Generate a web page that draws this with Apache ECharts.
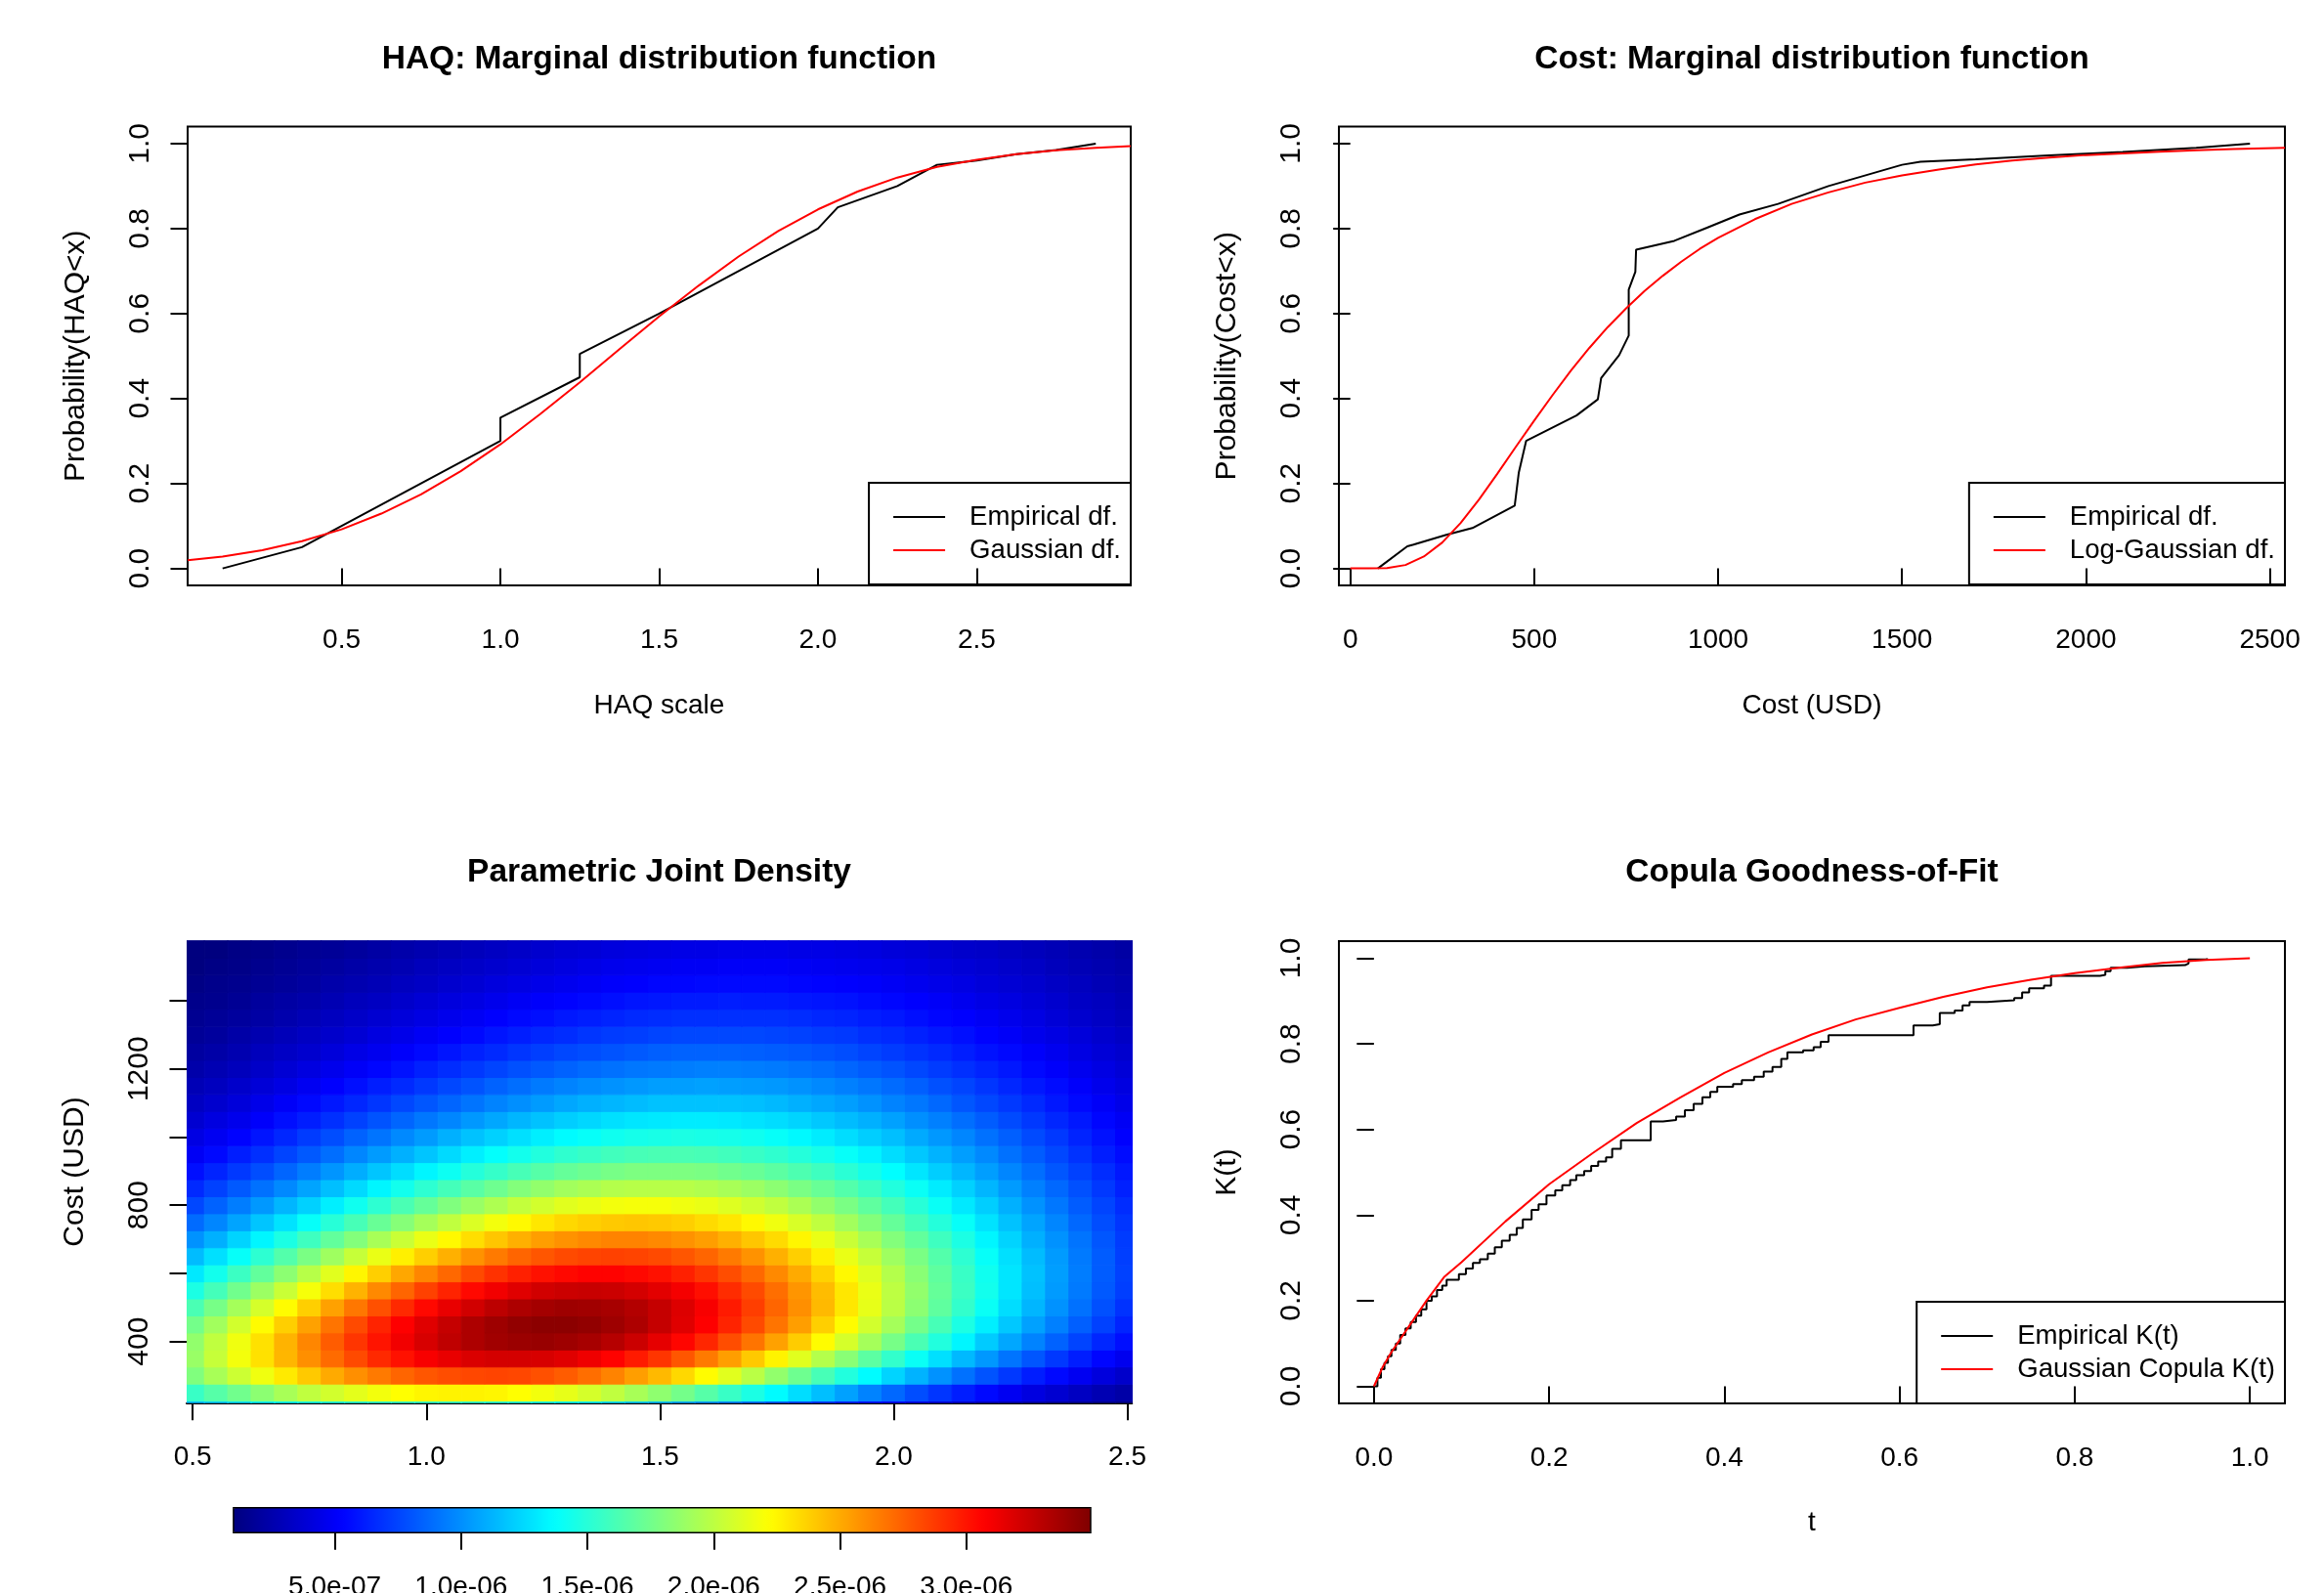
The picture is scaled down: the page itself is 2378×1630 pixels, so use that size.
<!DOCTYPE html>
<html>
<head>
<meta charset="utf-8">
<script src="https://cdn.jsdelivr.net/npm/echarts@6/dist/echarts.min.js"></script>
<style>
html, body { margin: 0; padding: 0; background: #fff; }
#chart { width: 2378px; height: 1630px; }
</style>
</head>
<body>
<div id="chart"></div>
<script>
// ---- data ----
// HAQ marginal
const haqEmpX = [0.125, 0.375, 0.5, 0.75, 1.0, 1.0, 1.25, 1.25, 1.5, 1.75, 2.0, 2.0625, 2.25, 2.375, 2.4375, 2.5, 2.625, 2.75, 2.875];
const haqEmpY = [0.0, 0.05, 0.1, 0.2, 0.3, 0.355, 0.45, 0.505, 0.6, 0.7, 0.8, 0.85, 0.9, 0.95, 0.955, 0.96, 0.975, 0.985, 1.0];
const haqFitX = [0.015, 0.125, 0.25, 0.375, 0.5, 0.625, 0.75, 0.875, 1.0, 1.125, 1.25, 1.375, 1.5, 1.625, 1.75, 1.875, 2.0, 2.125, 2.25, 2.375, 2.5, 2.625, 2.75, 2.875, 2.985];
const haqFitY = [0.019, 0.028, 0.043, 0.064, 0.092, 0.129, 0.174, 0.229, 0.292, 0.363, 0.438, 0.516, 0.593, 0.666, 0.734, 0.794, 0.845, 0.887, 0.920, 0.945, 0.962, 0.975, 0.984, 0.990, 0.994];

// Cost marginal
const costEmpX = [75, 155, 172, 261, 332, 447, 458, 478, 615, 673, 682, 731, 757, 757, 775, 777, 881, 970, 1058, 1163, 1300, 1500, 1550, 1700, 1900, 2100, 2300, 2446];
const costEmpY = [0, 0.052, 0.056, 0.079, 0.095, 0.148, 0.225, 0.30, 0.36, 0.398, 0.448, 0.502, 0.548, 0.656, 0.698, 0.75, 0.771, 0.802, 0.833, 0.858, 0.9, 0.95, 0.957, 0.963, 0.972, 0.98, 0.99, 1.0];
const costFitX = [0, 50, 100, 150, 200, 250, 300, 350, 400, 450, 500, 550, 600, 650, 700, 750, 800, 850, 900, 950, 1000, 1100, 1200, 1300, 1400, 1500, 1600, 1700, 1800, 1900, 2000, 2100, 2200, 2300, 2400, 2541];
const costFitY = [0, 0, 0.001, 0.008, 0.028, 0.061, 0.107, 0.162, 0.223, 0.286, 0.348, 0.408, 0.466, 0.519, 0.568, 0.612, 0.653, 0.689, 0.722, 0.752, 0.778, 0.822, 0.858, 0.885, 0.908, 0.925, 0.939, 0.951, 0.960, 0.967, 0.973, 0.977, 0.981, 0.984, 0.987, 0.990];

// Joint density (units of 1e-7), rows follow heatY, columns follow heatX
const heatX = [0.5, 0.55, 0.6, 0.65, 0.7, 0.75, 0.8, 0.85, 0.9, 0.95, 1.0, 1.05, 1.1, 1.15, 1.2, 1.25, 1.3, 1.35, 1.4, 1.45, 1.5, 1.55, 1.6, 1.65, 1.7, 1.75, 1.8, 1.85, 1.9, 1.95, 2.0, 2.05, 2.1, 2.15, 2.2, 2.25, 2.3, 2.35, 2.4, 2.45, 2.5];
const heatY = [200, 250, 300, 350, 400, 450, 500, 550, 600, 650, 700, 750, 800, 850, 900, 950, 1000, 1050, 1100, 1150, 1200, 1250, 1300, 1350, 1400, 1450, 1500, 1550, 1600];
const density = [
  [11.5, 12.1, 12.7, 13.3, 13.7, 14.2, 14.5, 14.8, 15.0, 15.2, 15.2, 15.2, 15.0, 14.8, 14.6, 14.2, 13.8, 13.3, 12.7, 12.1, 11.5, 10.8, 10.2, 9.5, 8.8, 8.1, 7.4, 6.8, 6.1, 5.5, 5.0, 4.4, 3.9, 3.5, 3.0, 2.6, 2.3, 2.0, 1.7, 1.4, 1.2],
  [15.6, 16.6, 17.5, 18.4, 19.3, 20.1, 20.7, 21.3, 21.8, 22.2, 22.5, 22.6, 22.6, 22.5, 22.2, 21.8, 21.4, 20.8, 20.1, 19.3, 18.5, 17.6, 16.6, 15.6, 14.6, 13.6, 12.6, 11.6, 10.6, 9.6, 8.7, 7.8, 7.0, 6.2, 5.5, 4.8, 4.2, 3.7, 3.2, 2.7, 2.3],
  [18.0, 19.3, 20.5, 21.7, 22.9, 24.0, 25.0, 25.9, 26.6, 27.3, 27.8, 28.1, 28.3, 28.4, 28.3, 28.0, 27.6, 27.0, 26.3, 25.4, 24.5, 23.5, 22.3, 21.2, 19.9, 18.6, 17.4, 16.1, 14.8, 13.6, 12.3, 11.2, 10.1, 9.0, 8.0, 7.1, 6.2, 5.5, 4.8, 4.1, 3.5],
  [18.8, 20.3, 21.8, 23.2, 24.6, 25.9, 27.1, 28.2, 29.3, 30.1, 30.9, 31.4, 31.9, 32.1, 32.1, 32.0, 31.7, 31.2, 30.6, 29.8, 28.9, 27.8, 26.6, 25.4, 24.0, 22.6, 21.2, 19.7, 18.3, 16.8, 15.4, 14.0, 12.7, 11.4, 10.3, 9.1, 8.1, 7.1, 6.2, 5.4, 4.7],
  [18.6, 20.1, 21.7, 23.2, 24.7, 26.2, 27.6, 28.9, 30.0, 31.1, 32.0, 32.8, 33.4, 33.8, 34.0, 34.1, 33.9, 33.6, 33.1, 32.4, 31.5, 30.5, 29.4, 28.1, 26.8, 25.3, 23.9, 22.3, 20.8, 19.2, 17.7, 16.2, 14.8, 13.4, 12.0, 10.8, 9.6, 8.5, 7.5, 6.5, 5.7],
  [17.6, 19.1, 20.7, 22.3, 23.8, 25.3, 26.8, 28.2, 29.5, 30.7, 31.7, 32.6, 33.4, 33.9, 34.3, 34.5, 34.5, 34.3, 33.9, 33.4, 32.6, 31.7, 30.7, 29.5, 28.2, 26.8, 25.4, 23.8, 22.3, 20.7, 19.2, 17.6, 16.1, 14.6, 13.2, 11.9, 10.6, 9.5, 8.4, 7.4, 6.4],
  [16.2, 17.7, 19.2, 20.8, 22.3, 23.8, 25.3, 26.7, 28.0, 29.3, 30.4, 31.4, 32.2, 32.9, 33.4, 33.7, 33.9, 33.8, 33.6, 33.2, 32.6, 31.8, 30.9, 29.8, 28.6, 27.3, 25.9, 24.5, 23.0, 21.4, 19.9, 18.4, 16.9, 15.4, 14.0, 12.6, 11.3, 10.1, 9.0, 7.9, 6.9],
  [14.6, 16.0, 17.5, 18.9, 20.4, 21.9, 23.3, 24.7, 26.1, 27.3, 28.5, 29.5, 30.4, 31.1, 31.7, 32.2, 32.4, 32.5, 32.4, 32.1, 31.6, 31.0, 30.2, 29.2, 28.2, 27.0, 25.7, 24.4, 23.0, 21.5, 20.0, 18.6, 17.1, 15.7, 14.3, 12.9, 11.6, 10.4, 9.3, 8.2, 7.3],
  [13.0, 14.3, 15.7, 17.0, 18.4, 19.8, 21.2, 22.5, 23.8, 25.1, 26.2, 27.2, 28.2, 29.0, 29.6, 30.1, 30.4, 30.6, 30.6, 30.4, 30.1, 29.6, 28.9, 28.1, 27.2, 26.1, 25.0, 23.7, 22.4, 21.1, 19.7, 18.3, 16.9, 15.6, 14.2, 12.9, 11.7, 10.5, 9.4, 8.3, 7.4],
  [11.5, 12.7, 13.9, 15.2, 16.5, 17.8, 19.0, 20.3, 21.5, 22.7, 23.8, 24.8, 25.8, 26.6, 27.3, 27.8, 28.2, 28.4, 28.5, 28.4, 28.2, 27.8, 27.3, 26.6, 25.8, 24.8, 23.8, 22.7, 21.5, 20.3, 19.0, 17.8, 16.5, 15.2, 13.9, 12.7, 11.5, 10.4, 9.3, 8.3, 7.3],
  [10.1, 11.1, 12.3, 13.4, 14.6, 15.8, 17.0, 18.1, 19.3, 20.4, 21.5, 22.4, 23.3, 24.1, 24.8, 25.4, 25.8, 26.1, 26.3, 26.3, 26.1, 25.8, 25.4, 24.8, 24.1, 23.4, 22.5, 21.5, 20.4, 19.3, 18.1, 17.0, 15.8, 14.6, 13.4, 12.3, 11.1, 10.1, 9.1, 8.1, 7.2],
  [8.8, 9.7, 10.7, 11.8, 12.8, 13.9, 15.0, 16.1, 17.2, 18.2, 19.2, 20.1, 21.0, 21.8, 22.4, 23.0, 23.5, 23.8, 24.0, 24.1, 24.0, 23.8, 23.4, 23.0, 22.4, 21.7, 20.9, 20.1, 19.1, 18.1, 17.1, 16.0, 14.9, 13.9, 12.8, 11.7, 10.7, 9.7, 8.7, 7.8, 7.0],
  [7.6, 8.5, 9.4, 10.3, 11.3, 12.2, 13.2, 14.2, 15.2, 16.2, 17.1, 18.0, 18.8, 19.5, 20.2, 20.7, 21.2, 21.5, 21.8, 21.9, 21.9, 21.7, 21.5, 21.1, 20.6, 20.1, 19.4, 18.6, 17.8, 16.9, 16.0, 15.0, 14.0, 13.0, 12.1, 11.1, 10.1, 9.2, 8.3, 7.5, 6.7],
  [6.6, 7.4, 8.2, 9.0, 9.8, 10.7, 11.6, 12.5, 13.4, 14.3, 15.2, 16.0, 16.7, 17.4, 18.1, 18.6, 19.1, 19.4, 19.7, 19.8, 19.8, 19.8, 19.6, 19.3, 18.9, 18.4, 17.8, 17.2, 16.5, 15.7, 14.8, 14.0, 13.1, 12.2, 11.3, 10.4, 9.5, 8.7, 7.9, 7.1, 6.3],
  [5.7, 6.4, 7.1, 7.8, 8.6, 9.4, 10.2, 11.0, 11.8, 12.6, 13.4, 14.1, 14.9, 15.5, 16.1, 16.6, 17.1, 17.4, 17.7, 17.9, 17.9, 17.9, 17.8, 17.5, 17.2, 16.8, 16.3, 15.8, 15.1, 14.4, 13.7, 12.9, 12.1, 11.3, 10.5, 9.7, 8.9, 8.1, 7.4, 6.7, 6.0],
  [4.9, 5.5, 6.2, 6.8, 7.5, 8.2, 8.9, 9.7, 10.4, 11.1, 11.8, 12.5, 13.2, 13.8, 14.3, 14.8, 15.3, 15.6, 15.9, 16.1, 16.2, 16.2, 16.1, 15.9, 15.6, 15.3, 14.9, 14.4, 13.9, 13.3, 12.6, 11.9, 11.2, 10.5, 9.8, 9.0, 8.3, 7.6, 6.9, 6.2, 5.6],
  [4.3, 4.8, 5.3, 5.9, 6.5, 7.2, 7.8, 8.5, 9.1, 9.8, 10.4, 11.1, 11.7, 12.2, 12.7, 13.2, 13.6, 13.9, 14.2, 14.4, 14.5, 14.6, 14.5, 14.4, 14.2, 13.9, 13.5, 13.1, 12.6, 12.1, 11.6, 10.9, 10.3, 9.7, 9.0, 8.4, 7.7, 7.1, 6.4, 5.8, 5.2],
  [3.7, 4.2, 4.6, 5.1, 5.7, 6.2, 6.8, 7.4, 8.0, 8.6, 9.2, 9.7, 10.3, 10.8, 11.3, 11.7, 12.1, 12.4, 12.7, 12.9, 13.0, 13.1, 13.1, 13.0, 12.8, 12.6, 12.3, 11.9, 11.5, 11.1, 10.6, 10.0, 9.5, 8.9, 8.3, 7.7, 7.1, 6.5, 6.0, 5.4, 4.9],
  [3.2, 3.6, 4.0, 4.5, 5.0, 5.5, 6.0, 6.5, 7.0, 7.6, 8.1, 8.6, 9.1, 9.6, 10.0, 10.4, 10.8, 11.1, 11.3, 11.5, 11.7, 11.7, 11.7, 11.7, 11.6, 11.4, 11.1, 10.8, 10.5, 10.1, 9.6, 9.2, 8.7, 8.1, 7.6, 7.1, 6.6, 6.0, 5.5, 5.0, 4.5],
  [2.8, 3.1, 3.5, 3.9, 4.3, 4.8, 5.2, 5.7, 6.2, 6.6, 7.1, 7.6, 8.0, 8.5, 8.9, 9.3, 9.6, 9.9, 10.1, 10.3, 10.5, 10.5, 10.6, 10.5, 10.4, 10.3, 10.1, 9.8, 9.5, 9.2, 8.8, 8.4, 7.9, 7.5, 7.0, 6.5, 6.0, 5.6, 5.1, 4.6, 4.2],
  [2.4, 2.7, 3.0, 3.4, 3.8, 4.2, 4.6, 5.0, 5.4, 5.8, 6.3, 6.7, 7.1, 7.5, 7.9, 8.2, 8.5, 8.8, 9.0, 9.2, 9.3, 9.4, 9.5, 9.5, 9.4, 9.3, 9.1, 8.9, 8.6, 8.3, 8.0, 7.6, 7.2, 6.8, 6.4, 6.0, 5.5, 5.1, 4.7, 4.3, 3.9],
  [2.1, 2.3, 2.6, 3.0, 3.3, 3.6, 4.0, 4.4, 4.7, 5.1, 5.5, 5.9, 6.3, 6.6, 7.0, 7.3, 7.6, 7.8, 8.0, 8.2, 8.4, 8.5, 8.5, 8.5, 8.4, 8.3, 8.2, 8.0, 7.8, 7.5, 7.2, 6.9, 6.6, 6.2, 5.8, 5.5, 5.1, 4.7, 4.3, 3.9, 3.6],
  [1.8, 2.0, 2.3, 2.6, 2.9, 3.2, 3.5, 3.8, 4.2, 4.5, 4.9, 5.2, 5.5, 5.9, 6.2, 6.5, 6.7, 7.0, 7.2, 7.3, 7.5, 7.6, 7.6, 7.6, 7.6, 7.5, 7.4, 7.2, 7.1, 6.8, 6.6, 6.3, 6.0, 5.7, 5.3, 5.0, 4.6, 4.3, 4.0, 3.6, 3.3],
  [1.6, 1.8, 2.0, 2.2, 2.5, 2.8, 3.1, 3.4, 3.7, 4.0, 4.3, 4.6, 4.9, 5.2, 5.5, 5.7, 6.0, 6.2, 6.4, 6.6, 6.7, 6.8, 6.8, 6.8, 6.8, 6.8, 6.7, 6.5, 6.4, 6.2, 6.0, 5.7, 5.4, 5.2, 4.9, 4.6, 4.3, 3.9, 3.6, 3.3, 3.0],
  [1.4, 1.5, 1.7, 2.0, 2.2, 2.4, 2.7, 3.0, 3.2, 3.5, 3.8, 4.1, 4.3, 4.6, 4.9, 5.1, 5.3, 5.5, 5.7, 5.9, 6.0, 6.1, 6.1, 6.2, 6.1, 6.1, 6.0, 5.9, 5.8, 5.6, 5.4, 5.2, 5.0, 4.7, 4.4, 4.2, 3.9, 3.6, 3.3, 3.1, 2.8],
  [1.2, 1.4, 1.5, 1.7, 1.9, 2.1, 2.4, 2.6, 2.8, 3.1, 3.3, 3.6, 3.8, 4.1, 4.3, 4.5, 4.7, 4.9, 5.1, 5.2, 5.4, 5.4, 5.5, 5.5, 5.5, 5.5, 5.4, 5.3, 5.2, 5.1, 4.9, 4.7, 4.5, 4.3, 4.0, 3.8, 3.6, 3.3, 3.1, 2.8, 2.6],
  [1.0, 1.2, 1.3, 1.5, 1.7, 1.9, 2.1, 2.3, 2.5, 2.7, 3.0, 3.2, 3.4, 3.6, 3.8, 4.0, 4.2, 4.4, 4.6, 4.7, 4.8, 4.9, 4.9, 5.0, 5.0, 5.0, 4.9, 4.8, 4.7, 4.6, 4.5, 4.3, 4.1, 3.9, 3.7, 3.5, 3.3, 3.0, 2.8, 2.6, 2.4],
  [0.9, 1.0, 1.2, 1.3, 1.5, 1.7, 1.8, 2.0, 2.2, 2.4, 2.6, 2.8, 3.0, 3.2, 3.4, 3.6, 3.8, 3.9, 4.1, 4.2, 4.3, 4.4, 4.4, 4.5, 4.5, 4.5, 4.4, 4.4, 4.3, 4.2, 4.0, 3.9, 3.7, 3.5, 3.4, 3.2, 3.0, 2.8, 2.6, 2.4, 2.2],
  [0.8, 0.9, 1.0, 1.2, 1.3, 1.5, 1.6, 1.8, 2.0, 2.1, 2.3, 2.5, 2.7, 2.9, 3.0, 3.2, 3.4, 3.5, 3.6, 3.8, 3.8, 3.9, 4.0, 4.0, 4.0, 4.0, 4.0, 3.9, 3.9, 3.8, 3.7, 3.5, 3.4, 3.2, 3.1, 2.9, 2.7, 2.5, 2.3, 2.2, 2.0]
];
const densityMin = 0.99;
const densityMax = 34.92;
const colorbarTicks = [5, 10, 15, 20, 25, 30];
const colorbarLabels = ['5.0e-07', '1.0e-06', '1.5e-06', '2.0e-06', '2.5e-06', '3.0e-06'];

// Copula goodness-of-fit
const ktEmpT = [0, 0.004, 0.008, 0.012, 0.016, 0.02, 0.025, 0.03, 0.036, 0.042, 0.048, 0.054, 0.06, 0.066, 0.072, 0.078, 0.083, 0.097, 0.105, 0.113, 0.121, 0.13, 0.138, 0.146, 0.155, 0.163, 0.17, 0.18, 0.188, 0.197, 0.207, 0.215, 0.224, 0.231, 0.24, 0.248, 0.256, 0.265, 0.272, 0.282, 0.316, 0.33, 0.345, 0.355, 0.365, 0.375, 0.384, 0.392, 0.41, 0.42, 0.434, 0.445, 0.455, 0.465, 0.472, 0.49, 0.502, 0.51, 0.519, 0.616, 0.638, 0.646, 0.663, 0.672, 0.68, 0.70, 0.731, 0.74, 0.748, 0.765, 0.773, 0.829, 0.835, 0.841, 0.86, 0.88, 0.926, 0.93, 0.951];
const ktEmpK = [0, 0.02, 0.04, 0.055, 0.07, 0.085, 0.10, 0.12, 0.135, 0.15, 0.165, 0.18, 0.20, 0.21, 0.225, 0.235, 0.249, 0.262, 0.275, 0.288, 0.297, 0.31, 0.325, 0.34, 0.354, 0.37, 0.39, 0.412, 0.425, 0.446, 0.458, 0.47, 0.482, 0.493, 0.503, 0.515, 0.525, 0.535, 0.555, 0.575, 0.619, 0.622, 0.63, 0.645, 0.66, 0.675, 0.688, 0.70, 0.706, 0.715, 0.723, 0.735, 0.746, 0.765, 0.78, 0.785, 0.792, 0.805, 0.82, 0.843, 0.846, 0.872, 0.878, 0.89, 0.898, 0.902, 0.907, 0.92, 0.93, 0.936, 0.959, 0.961, 0.97, 0.978, 0.981, 0.984, 0.988, 0.997, 1.0];
const ktFitT = [0, 0.01, 0.02, 0.04, 0.06, 0.08, 0.10, 0.15, 0.20, 0.25, 0.30, 0.35, 0.40, 0.45, 0.50, 0.55, 0.60, 0.65, 0.70, 0.75, 0.80, 0.85, 0.90, 0.95, 1.00];
const ktFitK = [0, 0.045, 0.08, 0.14, 0.20, 0.255, 0.29, 0.385, 0.472, 0.545, 0.615, 0.675, 0.732, 0.780, 0.822, 0.857, 0.884, 0.910, 0.932, 0.950, 0.965, 0.978, 0.989, 0.996, 1.0];

// tick positions
const haqTicks = [0.5, 1.0, 1.5, 2.0, 2.5];
const probTicks = [0, 0.2, 0.4, 0.6, 0.8, 1.0];
const costTicks = [0, 500, 1000, 1500, 2000, 2500];
const heatYTicks = [400, 600, 800, 1000, 1200, 1400];
const heatYLabels = [400, 800, 1200];
const tTicks = [0, 0.2, 0.4, 0.6, 0.8, 1.0];

// ---- chart ----
const FONT = '"Liberation Sans", Arial, sans-serif';
const txt = { fontSize: 28, color: '#000', fontFamily: FONT };
const txtRot = { fontSize: 30, color: '#000', fontFamily: FONT };  // rotated text renders a bit larger in the original
const tickStyle = { color: '#000', width: 2 };
const jet = ['#00007F', '#0000FF', '#007FFF', '#00FFFF', '#7FFF7F', '#FFFF00', '#FF7F00', '#FF0000', '#7F0000'];

function zip(xs, ys) { return xs.map((x, i) => [x, ys[i]]); }
const f1 = v => v.toFixed(1);

function xAxisOf(grid, min, max, ticks, fmt, name, nameGap, labels) {
  return {
    gridIndex: grid, type: 'value', min: min, max: max,
    name: name || '', nameLocation: 'middle', nameGap: nameGap || 0, nameTextStyle: txt,
    axisLine: { show: false }, splitLine: { show: false },
    axisTick: { show: true, customValues: ticks, length: 17.5, lineStyle: tickStyle },
    axisLabel: Object.assign({ customValues: labels || ticks, formatter: fmt, margin: 42 }, txt)
  };
}
function yAxisOf(grid, min, max, ticks, fmt, name, labels) {
  return {
    gridIndex: grid, type: 'value', min: min, max: max,
    name: name, nameLocation: 'middle', nameGap: 99, nameRotate: 90, nameTextStyle: txtRot,
    axisLine: { show: false }, splitLine: { show: false },
    axisTick: { show: true, customValues: ticks, length: 17.5, lineStyle: tickStyle },
    axisLabel: Object.assign({ customValues: labels || ticks, formatter: fmt, rotate: 90, margin: 33 }, txtRot)
  };
}
function lineSeries(name, xi, data, color, extra) {
  return Object.assign({
    name: name, type: 'line', xAxisIndex: xi, yAxisIndex: xi, data: data,
    symbol: 'none', showSymbol: false, clip: true, silent: true,
    lineStyle: { color: color, width: 2 }, itemStyle: { color: color }
  }, extra || {});
}
function legendOf(names, right, bottom) {
  return {
    data: names, orient: 'vertical', right: right, bottom: bottom,
    icon: 'rect', itemWidth: 53, itemHeight: 2, itemGap: 4,
    padding: [20, 10, 20, 25], borderColor: '#000', borderWidth: 2,
    selectedMode: false, itemStyle: { borderWidth: 0 },
    textStyle: { fontSize: 27.6, color: '#000', fontFamily: FONT, lineHeight: 30, padding: [0, 0, 0, 20] }
  };
}
function titleOf(text, cx, cy) {
  return {
    text: text, left: cx, top: cy - 17, textAlign: 'center', padding: 0,
    textStyle: { fontSize: 33.5, fontWeight: 'bold', color: '#000', fontFamily: FONT, lineHeight: 34 }
  };
}

const heatData = [];
heatY.forEach((y, i) => heatX.forEach((x, j) => heatData.push([x, y, density[i][j]])));
const halfX = (heatX[1] - heatX[0]) / 2;
const halfY = (heatY[1] - heatY[0]) / 2;

const gridBox = { show: true, borderColor: '#000', borderWidth: 2, backgroundColor: 'transparent', outerBoundsMode: 'none' };

const option = {
  backgroundColor: '#fff',
  animation: false,
  textStyle: { fontFamily: FONT },
  title: [
    titleOf('HAQ: Marginal distribution function', 674.5, 60.7),
    titleOf('Cost: Marginal distribution function', 1854, 60.7),
    titleOf('Parametric Joint Density', 674.5, 893),
    titleOf('Copula Goodness-of-Fit', 1854, 893)
  ],
  grid: [
    Object.assign({ left: 192, top: 129.5, width: 965, height: 469.5 }, gridBox),
    Object.assign({ left: 1370, top: 129.5, width: 968, height: 469.5 }, gridBox),
    { left: 191, top: 962.3, width: 967.3, height: 473.4, show: false, outerBoundsMode: 'none' },
    Object.assign({ left: 1370, top: 963, width: 968, height: 473 }, gridBox),
    { left: 238.9, top: 1542.7, width: 877.1, height: 25.6, show: false, outerBoundsMode: 'none' }
  ],
  xAxis: [
    xAxisOf(0, 0.015, 2.985, haqTicks, f1, 'HAQ scale', 109),
    xAxisOf(1, -31, 2541, costTicks, v => String(v), 'Cost (USD)', 109),
    Object.assign(xAxisOf(2, 0.487, 2.51, haqTicks, f1), { axisLine: { show: true, lineStyle: { color: '#000', width: 2 } } }),
    xAxisOf(3, -0.04, 1.04, tTicks, f1, 't', 108),
    xAxisOf(4, densityMin, densityMax, colorbarTicks, v => colorbarLabels[colorbarTicks.indexOf(v)])
  ],
  yAxis: [
    yAxisOf(0, -0.04, 1.04, probTicks, f1, 'Probability(HAQ<x)'),
    yAxisOf(1, -0.04, 1.04, probTicks, f1, 'Probability(Cost<x)'),
    yAxisOf(2, 219, 1577, heatYTicks, v => String(v), 'Cost (USD)', heatYLabels),
    yAxisOf(3, -0.04, 1.04, tTicks, f1, 'K(t)'),
    { gridIndex: 4, type: 'value', min: 0, max: 1, show: false }
  ],
  legend: [
    legendOf(['Empirical df.', 'Gaussian df.'], 2378 - 1157, 1630 - 598),
    legendOf(['Empirical df.', 'Log-Gaussian df.'], 40, 1630 - 598),
    legendOf(['Empirical K(t)', 'Gaussian Copula K(t)'], 40, 1630 - 1436)
  ],
  visualMap: {
    type: 'continuous', seriesIndex: 6, dimension: 2,
    min: densityMin, max: densityMax, orient: 'horizontal',
    left: 238.9, top: 1542.7, itemWidth: 25.6, itemHeight: 877.1,
    padding: 0, calculable: false, hoverLink: false, text: null,
    inRange: { color: jet }
  },
  graphic: [{
    type: 'rect', z: 100, silent: true,
    shape: { x: 238.9, y: 1542.7, width: 877.1, height: 25.6 },
    style: { fill: 'none', stroke: '#000', lineWidth: 1.5 }
  }],
  series: [
    lineSeries('Empirical df.', 0, zip(haqEmpX, haqEmpY), '#000'),
    lineSeries('Gaussian df.', 0, zip(haqFitX, haqFitY), '#FF0000'),
    lineSeries('Empirical df.', 1, zip(costEmpX, costEmpY), '#000'),
    lineSeries('Log-Gaussian df.', 1, zip(costFitX, costFitY), '#FF0000'),
    lineSeries('Empirical K(t)', 3, zip(ktEmpT, ktEmpK), '#000', { step: 'end' }),
    lineSeries('Gaussian Copula K(t)', 3, zip(ktFitT, ktFitK), '#FF0000'),
    {
      name: 'Joint density', type: 'custom', xAxisIndex: 2, yAxisIndex: 2,
      clip: true, silent: true, encode: { x: 0, y: 1 },
      data: heatData,
      renderItem: function (params, api) {
        const x = api.value(0), y = api.value(1);
        const a = api.coord([x - halfX, y + halfY]);
        const b = api.coord([x + halfX, y - halfY]);
        const c = api.visual('color');
        return {
          type: 'rect',
          shape: { x: a[0], y: a[1], width: b[0] - a[0], height: b[1] - a[1] },
          style: { fill: c, stroke: c, lineWidth: 1 }
        };
      }
    }
  ]
};

const chart = echarts.init(document.getElementById('chart'), null, { renderer: 'canvas' });
chart.setOption(option);
</script>
</body>
</html>
